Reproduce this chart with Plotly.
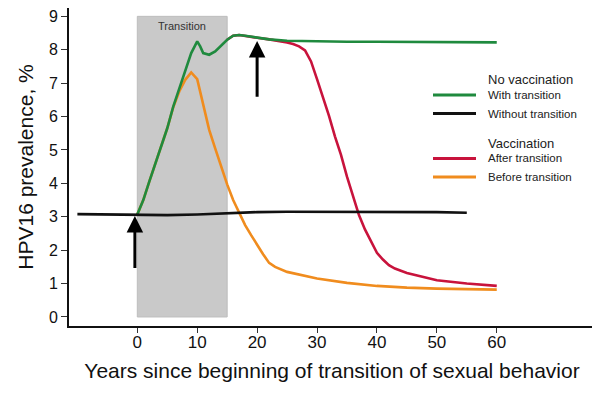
import plotly.graph_objects as go

# ---------------- data ----------------
green_x = [0, 1, 2, 3, 4, 5, 6, 7, 8, 9, 10, 10.5, 11, 12, 13, 14, 15, 16, 17, 18, 20, 22, 25, 30, 35, 40, 50, 60]
green_y = [3.07, 3.5, 4.05, 4.6, 5.12, 5.65, 6.3, 6.83, 7.35, 7.9, 8.25, 8.1, 7.9, 7.85, 7.95, 8.12, 8.3, 8.42, 8.44, 8.42, 8.36, 8.31, 8.27, 8.25, 8.24, 8.24, 8.23, 8.22]

black_x = [-10, -5, 0, 5, 10, 15, 20, 25, 30, 40, 50, 55]
black_y = [3.08, 3.07, 3.07, 3.05, 3.07, 3.11, 3.14, 3.15, 3.15, 3.15, 3.14, 3.12]

red_x = [15, 16, 17, 18, 20, 22, 24, 25, 26, 27, 28, 29, 30, 31, 32, 33, 34, 35, 36, 37, 38, 39, 40, 41, 42, 43, 45, 50, 55, 60]
red_y = [8.3, 8.42, 8.44, 8.42, 8.36, 8.31, 8.26, 8.22, 8.17, 8.1, 7.98, 7.65, 7.12, 6.58, 6.02, 5.4, 4.85, 4.2, 3.6, 3.05, 2.62, 2.28, 1.92, 1.72, 1.55, 1.45, 1.32, 1.1, 1.0, 0.93]

orange_x = [0, 1, 2, 3, 4, 5, 6, 7, 8, 9, 10, 10.5, 11, 12, 13, 14, 15, 16, 17, 18, 19, 20, 21, 22, 23, 25, 27, 30, 35, 40, 45, 50, 60]
orange_y = [3.07, 3.5, 4.05, 4.6, 5.12, 5.65, 6.28, 6.75, 7.1, 7.32, 7.12, 6.75, 6.3, 5.6, 5.05, 4.5, 3.97, 3.5, 3.1, 2.75, 2.45, 2.15, 1.88, 1.62, 1.5, 1.35, 1.27, 1.15, 1.02, 0.93, 0.88, 0.85, 0.82]

transition_x = [0, 15]
transition_y = [0, 9]
arrow_x = [-0.4, 20]
arrow_tip = [3.02, 8.26]
arrow_base = [1.42, 6.55]

x_ticks = [0, 10, 20, 30, 40, 50, 60]
y_ticks = [0, 1, 2, 3, 4, 5, 6, 7, 8, 9]

legend_groups = ["No vaccination", "Vaccination"]
legend_labels = ["With transition", "Without transition", "After transition", "Before transition"]

GREEN = "#1f8a3e"
BLACK = "#111111"
RED = "#c8133c"
ORANGE = "#f08c1e"
FONT = "Liberation Sans, Arial, sans-serif"

fig = go.Figure()

line_w = 2.6
fig.add_trace(go.Scatter(x=red_x, y=red_y, mode="lines", line=dict(color=RED, width=line_w), showlegend=False))
fig.add_trace(go.Scatter(x=orange_x, y=orange_y, mode="lines", line=dict(color=ORANGE, width=line_w), showlegend=False))
fig.add_trace(go.Scatter(x=green_x, y=green_y, mode="lines", line=dict(color=GREEN, width=line_w), showlegend=False))
fig.add_trace(go.Scatter(x=black_x, y=black_y, mode="lines", line=dict(color=BLACK, width=line_w), showlegend=False))

# transition shading
fig.add_shape(type="rect", xref="x", yref="y", x0=transition_x[0], x1=transition_x[1],
              y0=transition_y[0], y1=transition_y[1], fillcolor="#c9c9c9",
              line=dict(color="#bdbdbd", width=1), layer="below")
fig.add_annotation(x=(transition_x[0] + transition_x[1]) / 2, y=transition_y[1] - 0.28,
                   xref="x", yref="y", text="Transition", showarrow=False,
                   font=dict(family=FONT, size=11, color="#333333"))

# arrows
for ax_, tip, base in zip(arrow_x, arrow_tip, arrow_base):
    fig.add_annotation(x=ax_, y=tip, ax=ax_, ay=base, xref="x", yref="y", axref="x", ayref="y",
                       text="", showarrow=True, arrowhead=2, arrowsize=1.1, arrowwidth=3,
                       arrowcolor="#000000", standoff=0)

# manual legend (window-pixel positions of the plot area converted to paper coords)
L, R, T, B = 69, 595, 8, 326
def px(X):
    return (X - L) / (R - L)
def py(Y):
    return (B - Y) / (B - T)

leg_items = [
    (legend_labels[0], GREEN, 95),
    (legend_labels[1], BLACK, 113.5),
    (legend_labels[2], RED, 158.5),
    (legend_labels[3], ORANGE, 177),
]
for label, col, Y in leg_items:
    fig.add_shape(type="line", xref="paper", yref="paper", x0=px(433), x1=px(476),
                  y0=py(Y), y1=py(Y), line=dict(color=col, width=3))
    fig.add_annotation(xref="paper", yref="paper", x=px(486), y=py(Y), text=label,
                       showarrow=False, xanchor="left", yanchor="middle",
                       font=dict(family=FONT, size=11.5, color="#222222"))
for title, Y in zip(legend_groups, [80, 143.5]):
    fig.add_annotation(xref="paper", yref="paper", x=px(485.5), y=py(Y), text=title,
                       showarrow=False, xanchor="left", yanchor="middle",
                       font=dict(family=FONT, size=13, color="#222222"))

# page body has an 8px margin, so the figure is sized to fit inside the window
fig.update_layout(
    width=592, height=388,
    margin=dict(l=61, r=5, t=0, b=70, autoexpand=False),
    paper_bgcolor="white", plot_bgcolor="white",
    font=dict(family=FONT, color="#111111"),
    showlegend=False,
    xaxis=dict(range=[-11.4, 76.4], tickvals=x_ticks, ticks="outside", ticklen=5, tickwidth=1.2,
               tickcolor="#333333", showline=True, linecolor="#111111", linewidth=2,
               showgrid=False, zeroline=False, automargin=False,
               ticklabelstandoff=-5, ticklabeloverflow="allow",
               tickfont=dict(size=17, family=FONT, color="#111111"),
               title=dict(text="Years since beginning of transition of sexual behavior",
                          font=dict(size=21, family=FONT, color="#111111"), standoff=12)),
    yaxis=dict(range=[-0.27, 9.25], tickvals=y_ticks, ticks="outside", ticklen=6, tickwidth=1.2,
               tickcolor="#333333", showline=True, linecolor="#111111", linewidth=2,
               showgrid=False, zeroline=False, automargin=False, ticklabeloverflow="allow",
               tickfont=dict(size=16, family=FONT, color="#111111"),
               title=dict(text="HPV16 prevalence, %",
                          font=dict(size=21, family=FONT, color="#111111"), standoff=10)),
)

fig.write_html("out.html")
